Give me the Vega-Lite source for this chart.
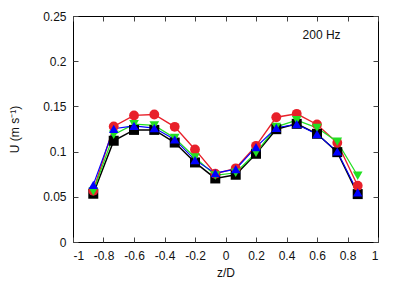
{
  "$schema": "https://vega.github.io/schema/vega-lite/v6.json",
  "autosize": {"type": "none"},
  "width": 305,
  "height": 226,
  "padding": {"left": 73, "top": 16, "right": 29, "bottom": 43},
  "config": {
    "font": "Liberation Sans",
    "view": {"stroke": "black", "strokeWidth": 1},
    "axis": {"grid": false, "domain": false, "tickColor": "#444", "tickSize": -5, "labelFontSize": 12, "labelColor": "#111", "titleFontSize": 12, "titleFontWeight": "normal", "titleColor": "#111"}
  },
  "data": {"values": [
    {"z": -0.867, "U": 0.0534, "s": "a"}, {"z": -0.733, "U": 0.112, "s": "a"}, {"z": -0.6, "U": 0.124, "s": "a"}, {"z": -0.467, "U": 0.124, "s": "a"}, {"z": -0.333, "U": 0.110, "s": "a"}, {"z": -0.2, "U": 0.088, "s": "a"}, {"z": -0.067, "U": 0.0703, "s": "a"}, {"z": 0.067, "U": 0.0744, "s": "a"}, {"z": 0.2, "U": 0.0976, "s": "a"}, {"z": 0.333, "U": 0.1248, "s": "a"}, {"z": 0.467, "U": 0.1307, "s": "a"}, {"z": 0.6, "U": 0.1197, "s": "a"}, {"z": 0.733, "U": 0.0994, "s": "a"}, {"z": 0.867, "U": 0.053, "s": "a"},
    {"z": -0.867, "U": 0.0567, "s": "b"}, {"z": -0.733, "U": 0.1278, "s": "b"}, {"z": -0.6, "U": 0.140, "s": "b"}, {"z": -0.467, "U": 0.141, "s": "b"}, {"z": -0.333, "U": 0.1274, "s": "b"}, {"z": -0.2, "U": 0.1024, "s": "b"}, {"z": -0.067, "U": 0.0755, "s": "b"}, {"z": 0.067, "U": 0.0815, "s": "b"}, {"z": 0.2, "U": 0.1064, "s": "b"}, {"z": 0.333, "U": 0.138, "s": "b"}, {"z": 0.467, "U": 0.1418, "s": "b"}, {"z": 0.6, "U": 0.130, "s": "b"}, {"z": 0.733, "U": 0.1097, "s": "b"}, {"z": 0.867, "U": 0.0622, "s": "b"},
    {"z": -0.867, "U": 0.056, "s": "c"}, {"z": -0.733, "U": 0.1186, "s": "c"}, {"z": -0.6, "U": 0.1303, "s": "c"}, {"z": -0.467, "U": 0.129, "s": "c"}, {"z": -0.333, "U": 0.115, "s": "c"}, {"z": -0.2, "U": 0.0935, "s": "c"}, {"z": -0.067, "U": 0.0736, "s": "c"}, {"z": 0.067, "U": 0.0766, "s": "c"}, {"z": 0.2, "U": 0.0987, "s": "c"}, {"z": 0.333, "U": 0.1274, "s": "c"}, {"z": 0.467, "U": 0.1348, "s": "c"}, {"z": 0.6, "U": 0.1263, "s": "c"}, {"z": 0.733, "U": 0.111, "s": "c"}, {"z": 0.867, "U": 0.0733, "s": "c"},
    {"z": -0.867, "U": 0.0633, "s": "d"}, {"z": -0.733, "U": 0.1252, "s": "d"}, {"z": -0.6, "U": 0.1285, "s": "d"}, {"z": -0.467, "U": 0.126, "s": "d"}, {"z": -0.333, "U": 0.1134, "s": "d"}, {"z": -0.2, "U": 0.0906, "s": "d"}, {"z": -0.067, "U": 0.0762, "s": "d"}, {"z": 0.067, "U": 0.0806, "s": "d"}, {"z": 0.2, "U": 0.105, "s": "d"}, {"z": 0.333, "U": 0.1263, "s": "d"}, {"z": 0.467, "U": 0.1303, "s": "d"}, {"z": 0.6, "U": 0.1193, "s": "d"}, {"z": 0.733, "U": 0.1001, "s": "d"}, {"z": 0.867, "U": 0.0549, "s": "d"}
  ]},
  "layer": [
    {
      "mark": {"type": "line", "clip": true},
      "encoding": {
        "x": {"field": "z", "type": "quantitative", "scale": {"domain": [-1, 1], "nice": false, "zero": false},
              "axis": {"orient": "bottom", "values": [-1, -0.8, -0.6, -0.4, -0.2, 0, 0.2, 0.4, 0.6, 0.8, 1], "labelExpr": "datum.value + ''", "title": "z/D", "labelPadding": 13, "titlePadding": 6}},
        "y": {"field": "U", "type": "quantitative", "scale": {"domain": [0, 0.25], "nice": false},
              "axis": {"orient": "left", "values": [0, 0.05, 0.1, 0.15, 0.2, 0.25], "labelExpr": "datum.value + ''", "title": "U (m s⁻¹)", "labelPadding": 12, "titlePadding": 21}},
        "color": {"field": "s", "type": "nominal", "scale": {"domain": ["a", "b", "c", "d"], "range": ["#000000", "#e8202a", "#22e022", "#0000ff"]}, "legend": null},
        "strokeWidth": {"field": "s", "type": "nominal", "scale": {"domain": ["a", "b", "c", "d"], "range": [1.5, 1.1, 1.3, 2]}, "legend": null},
        "detail": {"field": "s"}
      }
    },
    {
      "mark": {"type": "point", "filled": true, "opacity": 1},
      "encoding": {
        "x": {"field": "z", "type": "quantitative", "axis": {"orient": "top", "values": [-1, -0.8, -0.6, -0.4, -0.2, 0, 0.2, 0.4, 0.6, 0.8, 1], "labels": false, "title": null}},
        "y": {"field": "U", "type": "quantitative", "axis": {"orient": "right", "values": [0, 0.05, 0.1, 0.15, 0.2, 0.25], "labels": false, "title": null}},
        "color": {"field": "s", "type": "nominal", "legend": null},
        "shape": {"field": "s", "type": "nominal", "scale": {"domain": ["a", "b", "c", "d"], "range": ["square", "circle", "triangle-down", "triangle-up"]}, "legend": null},
        "size": {"field": "s", "type": "nominal", "scale": {"domain": ["a", "b", "c", "d"], "range": [100, 90, 35, 35]}, "legend": null},
        "order": {"field": "s"}
      }
    },
    {
      "data": {"values": [{"z": 0.63, "U": 0.2295, "label": "200 Hz"}]},
      "mark": {"type": "text", "fontSize": 12, "color": "#111", "align": "center", "baseline": "middle"},
      "encoding": {
        "x": {"field": "z", "type": "quantitative", "axis": null},
        "y": {"field": "U", "type": "quantitative", "axis": null},
        "text": {"field": "label"}
      }
    }
  ],
  "resolve": {"axis": {"x": "independent", "y": "independent"}}
}
